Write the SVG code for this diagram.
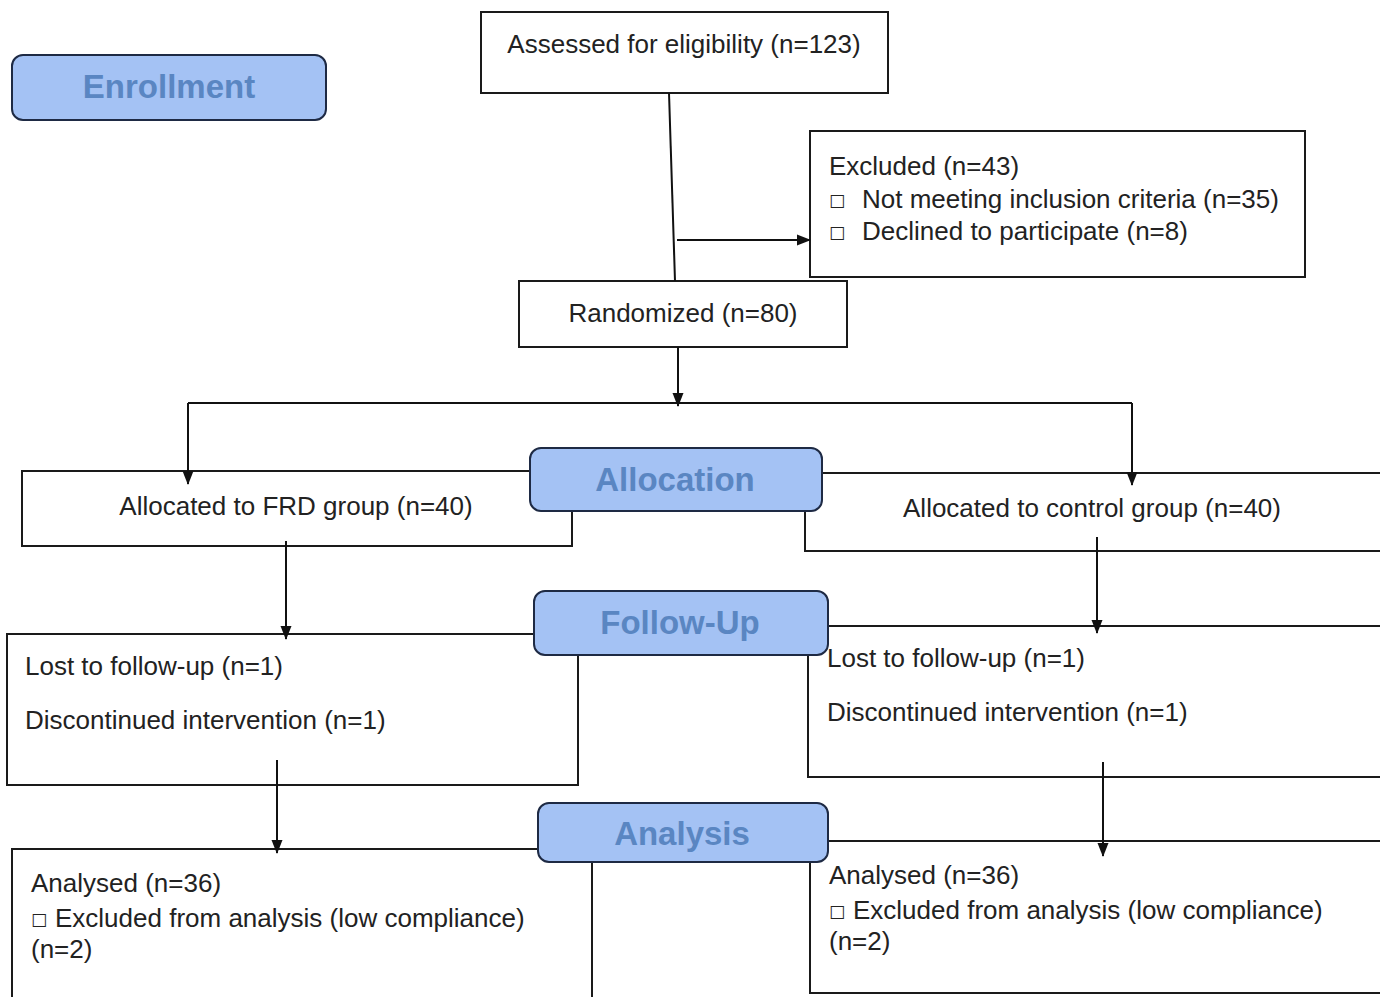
<svg xmlns="http://www.w3.org/2000/svg" width="1380" height="997" viewBox="0 0 1380 997">
<style>
.box{fill:#fff;stroke:#1a1a1a;stroke-width:2}
.lbl{fill:#a4c2f4;stroke:#1e2a44;stroke-width:2}
.lt{font-family:"Liberation Sans",Arial,sans-serif;font-weight:bold;font-size:33px;fill:#5a86c2;text-anchor:middle}
.t{font-family:"Liberation Sans",Arial,sans-serif;font-size:26px;fill:#222}
.c{text-anchor:middle}
.b{font-family:"DejaVu Sans",sans-serif;font-size:17px}
.ln{fill:none;stroke:#111;stroke-width:2}
</style>
<defs>
<marker id="ah" markerWidth="14" markerHeight="14" refX="13" refY="7" orient="auto" markerUnits="userSpaceOnUse">
<path d="M0,1.5 L14,7 L0,12.5 Z" fill="#111"/>
</marker>
</defs>
<rect width="1380" height="997" fill="#fff"/>

<g id="assessed"><rect class="box" x="481" y="12" width="407" height="81"/><text class="t c" x="684" y="53">Assessed for eligibility (n=123)</text></g>
<g id="excluded"><rect class="box" x="810" y="131" width="495" height="146"/>
<text class="t" x="829" y="175">Excluded (n=43)</text>
<text class="t" y="208"><tspan class="b" x="829" dy="-2">□</tspan><tspan x="862" dy="2">Not meeting inclusion criteria (n=35)</tspan></text>
<text class="t" y="240"><tspan class="b" x="829" dy="-2">□</tspan><tspan x="862" dy="2">Declined to participate (n=8)</tspan></text></g>
<g id="randomized"><rect class="box" x="519" y="281" width="328" height="66"/><text class="t c" x="683" y="322">Randomized (n=80)</text></g>
<g id="frd"><rect class="box" x="22" y="471" width="550" height="75"/><text class="t c" x="296" y="515">Allocated to FRD group (n=40)</text></g>
<g id="control"><rect class="box" x="805" y="473" width="590" height="78"/><text class="t c" x="1092" y="517">Allocated to control group (n=40)</text></g>
<g id="lost-frd"><rect class="box" x="7" y="634" width="571" height="151"/>
<text class="t" x="25" y="675">Lost to follow-up (n=1)</text>
<text class="t" x="25" y="729">Discontinued intervention (n=1)</text></g>
<g id="lost-control"><rect class="box" x="808" y="626" width="590" height="151"/>
<text class="t" x="827" y="667">Lost to follow-up (n=1)</text>
<text class="t" x="827" y="721">Discontinued intervention (n=1)</text></g>
<g id="analysed-frd"><rect class="box" x="12" y="849" width="580" height="160"/>
<text class="t" x="31" y="892">Analysed (n=36)</text>
<text class="t" y="927"><tspan class="b" x="31" dy="-2">□</tspan><tspan x="55" dy="2">Excluded from analysis (low compliance)</tspan></text>
<text class="t" x="31" y="958">(n=2)</text></g>
<g id="analysed-control"><rect class="box" x="810" y="841" width="590" height="152"/>
<text class="t" x="829" y="884">Analysed (n=36)</text>
<text class="t" y="919"><tspan class="b" x="829" dy="-2">□</tspan><tspan x="853" dy="2">Excluded from analysis (low compliance)</tspan></text>
<text class="t" x="829" y="950">(n=2)</text></g>

<g id="connectors">
<path class="ln" d="M669,93 L675,281"/>
<path class="ln" d="M677,240 L810,240" marker-end="url(#ah)"/>
<path class="ln" d="M678,347 L678,406" marker-end="url(#ah)"/>
<path class="ln" d="M188,403 L1132,403"/>
<path class="ln" d="M188,403 L188,484" marker-end="url(#ah)"/>
<path class="ln" d="M1132,403 L1132,485" marker-end="url(#ah)"/>
<path class="ln" d="M286,541 L286,639" marker-end="url(#ah)"/>
<path class="ln" d="M1097,537 L1097,633" marker-end="url(#ah)"/>
<path class="ln" d="M277,760 L277,853" marker-end="url(#ah)"/>
<path class="ln" d="M1103,762 L1103,856" marker-end="url(#ah)"/>
</g>

<g id="enrollment"><rect class="lbl" x="12" y="55" width="314" height="65" rx="11"/><text class="lt" x="169" y="98">Enrollment</text></g>
<g id="allocation"><rect class="lbl" x="530" y="448" width="292" height="63" rx="11"/><text class="lt" x="675" y="491">Allocation</text></g>
<g id="follow-up"><rect class="lbl" x="534" y="591" width="294" height="64" rx="11"/><text class="lt" x="680" y="634">Follow-Up</text></g>
<g id="analysis"><rect class="lbl" x="538" y="803" width="290" height="59" rx="11"/><text class="lt" x="682" y="845">Analysis</text></g>
</svg>
